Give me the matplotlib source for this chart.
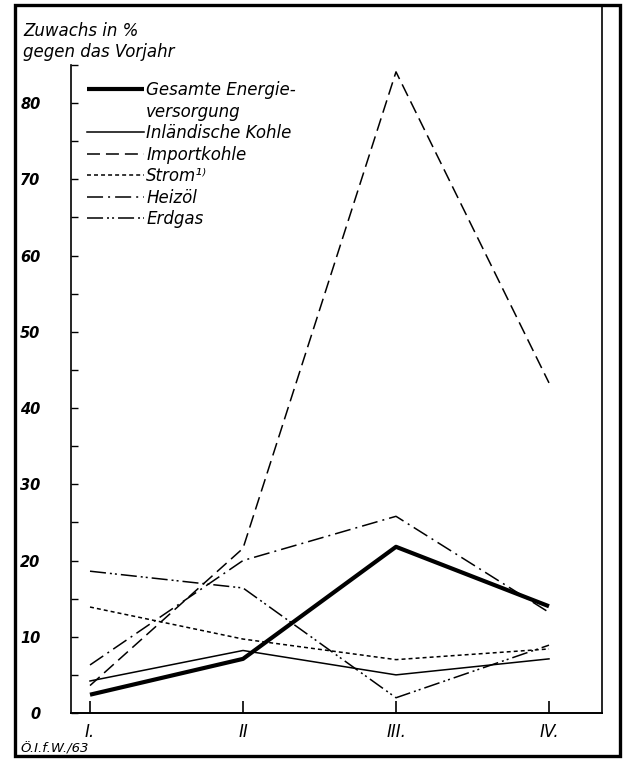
import matplotlib
matplotlib.use("Agg")
import matplotlib.pyplot as plt
from matplotlib.lines import Line2D
from matplotlib.patches import Rectangle
from matplotlib.ticker import MultipleLocator

# quarters and growth vs. previous year (%)
quarters = [1, 2, 3, 4]
quarter_labels = ["I.", "II", "III.", "IV."]
gesamt = [2.4, 7.1, 21.8, 14.0]
inl_kohle = [4.2, 8.2, 5.0, 7.1]
importkohle = [3.6, 21.6, 84.1, 43.3]
strom = [13.9, 9.7, 7.0, 8.4]
heizoel = [6.3, 20.0, 25.8, 13.2]
erdgas = [18.6, 16.4, 2.0, 8.9]

FONT = "DejaVu Sans"
plt.rcParams["font.family"] = FONT
plt.rcParams["font.style"] = "oblique"

W, H = 624, 760
fig = plt.figure(figsize=(W / 100, H / 100), dpi=100)
ax = fig.add_axes([71 / W, 1 - 713 / H, (602 - 71) / W, (713 - 65) / H])

thin = 1.1
ax.plot(quarters, gesamt, color="black", lw=3.0, solid_capstyle="butt",
        label="Gesamte Energie-")
ax.plot([], [], color="none", label="versorgung")
ax.plot(quarters, inl_kohle, color="black", lw=thin, label="Inländische Kohle")
ax.plot(quarters, importkohle, color="black", lw=thin,
        linestyle=(0, (8.5, 3.9)), label="Importkohle")
ax.plot(quarters, strom, color="black", lw=thin,
        linestyle=(0, (2.6, 2.0)), label="Strom¹⁾")
ax.plot(quarters, heizoel, color="black", lw=thin,
        linestyle=(0, (10.5, 3.3, 1.3, 3.3)), label="Heizöl")
ax.plot(quarters, erdgas, color="black", lw=thin,
        linestyle=(0, (10.5, 2.6, 1.3, 2.0, 1.3, 2.6)), label="Erdgas")

ax.set_xlim(1 - 19 / 153, 1 + 512 / 153)
ax.set_ylim(0, 85)
ax.set_xticks(quarters)
ax.set_xticklabels(quarter_labels, fontsize=12, fontstyle="oblique")
ax.yaxis.set_major_locator(MultipleLocator(10))
ax.yaxis.set_minor_locator(MultipleLocator(5))
ax.set_yticks(range(0, 81, 10))
ax.tick_params(axis="y", which="both", direction="in", length=5, width=1.0,
               pad=22, labelsize=10.5)
ax.tick_params(axis="x", direction="in", length=8.6, width=1.2, pad=7)
for t in ax.get_yticklabels():
    t.set_fontweight("bold")
    t.set_fontstyle("oblique")

for sp in ("top", "right"):
    ax.spines[sp].set_visible(False)
ax.spines["left"].set_linewidth(1.2)
ax.spines["bottom"].set_linewidth(1.4)

ax.legend(loc="upper left", bbox_to_anchor=(16 / 531, 0.975), frameon=False,
          fontsize=12, handlelength=3.4, handletextpad=0.15, labelspacing=0.21,
          borderpad=0, borderaxespad=0)

fig.text(23 / W, 1 - 22 / H, "Zuwachs in %\ngegen das Vorjahr",
         ha="left", va="top", fontsize=12, linespacing=1.2)
fig.text(20 / W, 1 - 749 / H, "Ö.I.f.W./63", ha="left", va="center",
         fontsize=9.5)

# right rule running up to the frame, and the outer frame
fig.add_artist(Line2D([602 / W, 602 / W], [1 - 713 / H, 1 - 6 / H],
                      transform=fig.transFigure, color="black", lw=1.2))
fig.add_artist(Rectangle((15 / W, 1 - 756 / H), (620 - 15) / W, (756 - 5) / H,
                         transform=fig.transFigure, fill=False,
                         edgecolor="black", lw=2.4))

fig.savefig("out.png", dpi=100)
